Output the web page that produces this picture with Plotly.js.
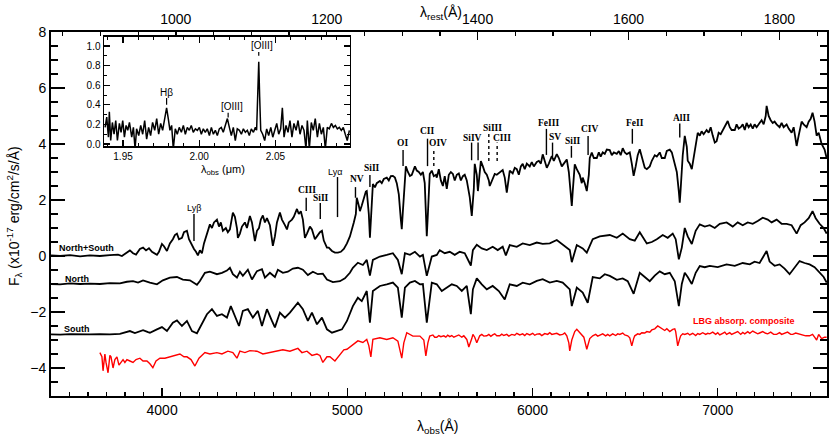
<!DOCTYPE html>
<html><head><meta charset="utf-8">
<script src="https://cdn.plot.ly/plotly-3.0.1.min.js"></script>
<style>html,body{margin:0;padding:0;background:#fff}#chart{width:830px;height:445px}</style>
</head><body><div id="chart"></div>
<script>
// North+South combined spectrum (observed wavelength, Angstrom ; flux 1e-17)
const nsWl = [3400,3449,3503,3557,3610,3664,3718,3762,3783,3810,3826,3843,3859,3880,3897,3913,3929,3945,3961,3972,3983,3999,4010,4026,4042,4058,4069,4080,4091,4107,4118,4134,4145,4156,4172,4183,4193,4204,4215,4226,4237,4247,4258,4269,4280,4296,4307,4317,4328,4344,4355,4366,4377,4382,4393,4404,4409,4420,4431,4447,4458,4474,4485,4496,4501,4512,4523,4533,4544,4555,4566,4582,4593,4598,4609,4620,4636,4647,4663,4674,4684,4701,4711,4728,4738,4749,4760,4771,4782,4798,4809,4825,4836,4852,4863,4873,4890,4900,4917,4933,4949,4965,4981,4998,5014,5024,5035,5046,5051,5062,5068,5078,5089,5100,5105,5116,5122,5127,5138,5149,5159,5176,5186,5197,5213,5224,5235,5246,5257,5267,5278,5289,5294,5300,5311,5316,5327,5338,5348,5359,5365,5375,5386,5397,5408,5418,5424,5429,5435,5445,5456,5467,5478,5483,5494,5505,5516,5526,5537,5548,5559,5570,5580,5591,5602,5613,5624,5634,5645,5651,5661,5672,5683,5688,5699,5705,5715,5721,5732,5742,5753,5764,5769,5780,5796,5807,5823,5839,5850,5861,5872,5877,5893,5904,5915,5926,5937,5947,5958,5969,5985,5996,6007,6023,6034,6045,6055,6066,6077,6088,6104,6115,6131,6142,6158,6169,6185,6196,6206,6212,6217,6228,6239,6255,6266,6271,6282,6293,6304,6309,6320,6331,6347,6358,6368,6379,6390,6401,6417,6428,6439,6455,6466,6476,6487,6498,6509,6525,6536,6546,6557,6568,6579,6590,6606,6617,6633,6644,6660,6671,6687,6698,6714,6725,6741,6752,6768,6779,6790,6795,6800,6811,6822,6833,6838,6849,6860,6870,6881,6892,6903,6913,6924,6940,6951,6962,6973,6984,6994,7005,7016,7027,7038,7054,7065,7075,7092,7102,7113,7124,7135,7146,7156,7167,7178,7189,7199,7210,7226,7237,7248,7259,7264,7275,7286,7297,7307,7318,7334,7345,7356,7372,7383,7399,7410,7426,7437,7453,7464,7480,7491,7502,7512,7523,7534,7545,7561,7577,7588];
const nsFlux = [0.02,0.0,0.03,-0.01,0.02,0.0,0.03,0.05,0.0,0.12,0.2,0.1,0.05,0.25,0.3,0.2,0.28,0.15,0.1,0.04,0.15,0.43,0.35,0.18,0.45,0.6,0.75,0.8,0.6,0.65,0.85,0.9,0.6,0.45,0.25,0.15,0.02,0.2,0.1,0.45,0.7,0.95,1.13,1.0,1.2,1.3,1.05,1.2,0.9,1.0,0.85,0.95,1.3,1.55,1.4,1.0,0.65,0.8,1.05,1.2,1.0,1.43,1.2,0.8,0.53,0.9,1.0,1.3,1.45,1.2,1.35,1.1,0.6,0.36,0.7,1.2,1.55,1.3,1.1,0.95,1.2,1.3,1.4,1.68,1.5,1.6,1.3,0.65,0.8,1.05,0.95,0.6,0.7,0.85,0.9,0.55,0.3,0.3,0.18,0.12,0.12,0.15,0.25,0.45,0.7,0.9,1.2,1.5,2.08,1.8,1.6,1.8,2.1,2.3,2.32,1.5,0.65,1.3,2.57,2.45,2.6,2.68,2.6,2.75,2.8,2.7,2.85,2.86,2.8,2.6,2.2,1.3,0.96,1.6,2.8,3.2,3.0,2.86,2.9,3.1,3.2,3.05,3.0,2.9,3.0,2.6,1.5,0.71,1.5,2.93,3.05,2.85,2.9,2.8,3.1,2.7,2.5,2.85,2.4,2.9,3.0,2.93,2.7,2.9,2.95,2.7,2.85,2.9,2.7,2.5,2.1,1.43,2.4,3.29,2.9,2.32,3.0,3.39,3.2,3.0,2.9,2.7,2.5,2.7,2.93,2.9,3.0,3.07,2.8,2.26,2.8,3.05,2.95,3.15,3.1,2.9,3.2,3.29,3.1,3.3,3.2,3.35,3.2,3.36,3.4,3.3,3.63,3.4,3.15,3.3,3.57,3.4,3.64,3.5,3.2,3.3,3.45,3.0,2.2,1.79,2.3,3.27,3.1,2.9,2.6,2.8,2.6,2.32,2.9,3.5,3.69,3.5,3.5,3.7,3.55,3.7,3.65,3.8,3.78,3.6,3.7,3.65,3.75,3.6,3.85,3.7,3.64,3.7,3.3,2.86,3.2,3.6,3.81,3.5,3.15,3.1,3.2,3.4,3.6,3.55,3.7,3.5,3.5,3.75,3.8,3.7,3.33,3.0,2.3,1.9,2.4,3.6,4.29,3.9,3.4,3.3,3.1,3.5,4.1,4.4,4.3,4.45,4.35,4.5,4.4,4.6,4.3,4.05,4.1,4.4,4.35,4.5,4.6,4.82,4.6,4.5,4.5,4.7,4.55,4.6,4.7,4.5,4.75,4.6,4.7,4.55,4.7,4.6,4.75,4.85,4.7,5.0,5.36,5.0,4.85,4.75,4.8,4.7,4.6,4.75,4.6,4.7,4.55,4.4,4.6,3.93,4.3,4.8,4.7,4.6,4.8,4.9,5.12,4.8,4.3,4.4,4.0,3.8,3.5];

// North spectrum
const northWl = [3400,3449,3503,3557,3610,3664,3718,3772,3810,3843,3870,3897,3934,3972,4004,4042,4080,4112,4150,4188,4204,4231,4258,4296,4323,4350,4366,4382,4404,4420,4436,4463,4485,4512,4539,4555,4582,4609,4625,4652,4679,4706,4733,4760,4787,4814,4841,4868,4890,4922,4960,4987,5014,5030,5057,5084,5105,5122,5138,5176,5213,5246,5273,5294,5311,5338,5365,5392,5408,5429,5456,5483,5499,5526,5553,5580,5607,5634,5667,5678,5699,5726,5753,5785,5812,5839,5856,5877,5915,5947,5985,6023,6055,6093,6131,6163,6201,6212,6239,6271,6293,6325,6363,6417,6455,6487,6525,6552,6579,6617,6644,6671,6703,6730,6757,6773,6790,6806,6822,6838,6860,6881,6903,6930,6957,6984,7011,7048,7081,7108,7135,7162,7189,7216,7243,7270,7291,7318,7345,7372,7399,7426,7448,7469,7491,7512,7529,7550,7572,7588];
const northFlux = [-1.0,-1.01,-0.98,-1.0,-0.99,-1.0,-0.97,-0.98,-0.92,-0.9,-0.95,-0.87,-0.95,-1.01,-0.87,-0.77,-0.75,-0.84,-0.87,-1.03,-0.89,-0.6,-0.56,-0.65,-0.6,-0.52,-0.42,-0.65,-0.77,-0.56,-0.71,-0.49,-0.84,-0.54,-0.47,-0.77,-0.6,-0.75,-0.49,-0.6,-0.56,-0.45,-0.42,-0.49,-0.68,-0.56,-0.65,-0.63,-0.84,-0.93,-0.9,-0.8,-0.6,-0.42,-0.24,-0.32,-0.14,-0.7,-0.14,-0.02,0.04,0.1,-0.14,-0.65,0.1,0.04,0.15,-0.02,0.04,-0.71,-0.02,0.04,0.21,0.1,0.15,0.04,0.15,0.1,-0.34,0.21,0.4,0.27,0.21,0.33,0.21,0.33,0.02,0.39,0.33,0.45,0.39,0.48,0.43,0.45,0.57,0.39,0.21,-0.22,0.39,0.27,0.12,0.6,0.7,0.75,0.65,0.8,0.6,0.55,0.85,0.45,0.5,0.6,0.75,0.65,0.8,0.6,-0.12,0.3,1.0,0.7,0.43,0.9,1.13,1.05,1.1,1.0,1.15,1.2,1.05,1.2,1.1,1.2,1.15,1.25,1.37,1.3,1.2,1.3,1.15,1.15,1.1,0.8,1.1,1.2,1.35,1.6,1.35,1.15,1.0,0.8];

// South spectrum
const southWl = [3400,3449,3503,3557,3610,3664,3718,3772,3810,3826,3853,3880,3897,3924,3934,3972,3999,4026,4058,4080,4107,4134,4161,4188,4215,4242,4269,4296,4323,4350,4371,4393,4415,4436,4463,4490,4517,4539,4566,4593,4609,4636,4663,4690,4717,4733,4760,4787,4809,4836,4863,4890,4917,4944,4971,4998,5030,5057,5078,5105,5122,5138,5176,5213,5246,5273,5294,5311,5338,5365,5392,5408,5429,5456,5483,5510,5537,5564,5591,5618,5645,5667,5678,5699,5726,5753,5785,5818,5850,5877,5915,5947,5985,6023,6055,6093,6131,6163,6201,6212,6239,6271,6298,6325,6363,6390,6417,6455,6487,6514,6546,6579,6606,6633,6660,6687,6714,6741,6768,6790,6806,6822,6838,6860,6881,6903,6930,6957,7000,7048,7092,7135,7173,7199,7226,7248,7264,7280,7307,7334,7361,7388,7415,7442,7469,7496,7523,7550,7572,7588];
const southFlux = [-2.8,-2.81,-2.79,-2.8,-2.8,-2.79,-2.8,-2.78,-2.72,-2.68,-2.75,-2.7,-2.65,-2.72,-2.74,-2.62,-2.54,-2.68,-2.38,-2.3,-2.5,-2.32,-2.68,-2.76,-2.44,-2.08,-1.9,-2.14,-2.08,-2.2,-1.79,-2.14,-2.5,-1.96,-1.9,-2.2,-1.96,-2.5,-1.9,-2.32,-2.55,-2.02,-2.2,-2.02,-1.79,-1.67,-1.9,-2.32,-2.02,-2.44,-2.2,-2.62,-2.74,-2.68,-2.62,-2.32,-1.79,-1.49,-1.61,-1.25,-2.38,-1.25,-1.07,-1.01,-0.95,-1.13,-2.2,-1.13,-0.95,-0.89,-1.01,-1.0,-2.38,-0.95,-1.01,-1.25,-1.13,-1.01,-1.07,-1.25,-1.07,-2.08,-1.19,-0.8,-1.01,-1.19,-1.07,-1.25,-1.55,-1.01,-1.07,-0.95,-1.01,-0.89,-0.83,-0.95,-0.89,-0.95,-1.19,-1.79,-1.13,-1.31,-1.67,-0.75,-0.8,-0.65,-0.71,-0.85,-0.8,-0.9,-1.35,-0.6,-0.75,-0.9,-0.7,-0.55,-0.65,-0.6,-0.9,-1.79,-1.0,-0.6,-0.75,-1.0,-0.6,-0.36,-0.4,-0.35,-0.4,-0.3,-0.35,-0.25,-0.3,-0.2,-0.25,0.0,0.18,-0.2,-0.35,-0.3,-0.45,-0.65,-0.4,-0.18,-0.25,-0.3,-0.4,-0.6,-0.75,-0.95];

// LBG absorption composite (red)
const lbgWl = [3664,3675,3681,3691,3697,3708,3718,3724,3735,3745,3756,3767,3772,3789,3799,3810,3826,3843,3859,3880,3897,3918,3934,3950,3967,3988,4015,4042,4069,4096,4118,4134,4156,4177,4199,4220,4231,4258,4296,4323,4355,4382,4404,4420,4447,4474,4512,4544,4582,4614,4652,4690,4711,4733,4755,4782,4809,4836,4852,4868,4890,4906,4933,4960,4981,4998,5030,5057,5084,5105,5116,5127,5138,5176,5213,5246,5273,5294,5305,5321,5354,5392,5413,5424,5435,5445,5462,5472,5483,5494,5505,5521,5532,5542,5553,5564,5575,5591,5602,5618,5629,5645,5656,5672,5678,5688,5699,5715,5726,5737,5753,5764,5775,5785,5796,5807,5823,5834,5845,5861,5872,5888,5904,5915,5931,5947,5958,5969,5985,6001,6012,6023,6039,6050,6066,6082,6093,6104,6120,6131,6147,6163,6174,6185,6196,6201,6212,6228,6239,6255,6266,6277,6293,6309,6325,6341,6352,6363,6379,6395,6406,6417,6433,6449,6460,6471,6487,6498,6514,6525,6536,6546,6552,6568,6579,6590,6606,6617,6633,6644,6660,6676,6687,6703,6714,6725,6741,6757,6768,6773,6784,6795,6800,6811,6822,6838,6849,6865,6881,6892,6903,6919,6935,6946,6957,6973,6989,7000,7011,7027,7038,7048,7065,7075,7092,7108,7124,7135,7146,7162,7173,7189,7199,7216,7226,7243,7259,7270,7286,7302,7318,7334,7345,7361,7377,7394,7405,7421,7442,7458,7475,7496,7512,7523,7534,7545,7561,7577,7588];
const lbgFlux = [-3.45,-3.6,-4.1,-3.5,-3.8,-4.17,-3.55,-3.6,-4.0,-3.7,-3.6,-3.9,-3.85,-3.7,-3.8,-3.7,-3.75,-3.8,-3.7,-3.65,-3.75,-3.75,-3.85,-3.99,-3.75,-3.65,-3.65,-3.6,-3.55,-3.5,-3.6,-3.6,-3.7,-3.93,-3.65,-3.5,-3.45,-3.5,-3.45,-3.5,-3.4,-3.45,-3.65,-3.4,-3.45,-3.38,-3.4,-3.5,-3.45,-3.4,-3.35,-3.4,-3.35,-3.3,-3.45,-3.4,-3.55,-3.5,-3.55,-3.8,-3.6,-3.6,-3.75,-3.51,-3.35,-3.33,-3.15,-3.03,-3.09,-2.98,-3.2,-3.6,-2.98,-2.92,-2.98,-2.92,-3.04,-3.65,-3.1,-2.74,-2.86,-2.86,-3.0,-3.57,-3.1,-2.86,-2.82,-2.9,-2.9,-2.84,-2.88,-2.85,-2.9,-2.83,-2.88,-2.84,-2.9,-2.85,-2.82,-2.9,-2.85,-2.98,-3.25,-2.95,-2.8,-2.9,-3.1,-2.85,-2.8,-2.86,-2.85,-2.8,-2.87,-2.82,-2.78,-2.85,-2.85,-2.79,-2.84,-2.8,-2.86,-2.8,-2.83,-2.76,-2.82,-2.78,-2.84,-2.77,-2.82,-2.76,-2.83,-2.79,-2.78,-2.84,-2.77,-2.8,-2.74,-2.8,-2.76,-2.76,-2.82,-2.8,-2.75,-2.85,-3.1,-3.39,-3.0,-2.7,-2.62,-2.75,-2.8,-2.9,-3.33,-2.95,-2.85,-2.8,-2.86,-2.82,-2.78,-2.85,-2.8,-2.85,-2.78,-2.84,-2.78,-2.8,-2.75,-2.82,-2.85,-2.92,-3.21,-2.95,-2.85,-2.78,-2.8,-2.74,-2.75,-2.7,-2.72,-2.64,-2.6,-2.5,-2.55,-2.62,-2.66,-2.6,-2.7,-2.62,-2.6,-2.7,-3.21,-2.95,-2.85,-2.78,-2.8,-2.76,-2.82,-2.76,-2.84,-2.77,-2.8,-2.74,-2.8,-2.76,-2.78,-2.72,-2.8,-2.74,-2.82,-2.76,-2.72,-2.8,-2.74,-2.8,-2.75,-2.7,-2.8,-2.73,-2.78,-2.7,-2.76,-2.68,-2.72,-2.78,-2.75,-2.7,-2.76,-2.78,-2.72,-2.8,-2.8,-2.74,-2.8,-2.76,-2.72,-2.8,-2.8,-2.75,-2.78,-2.83,-2.85,-2.85,-2.8,-2.9,-3.0,-2.8,-2.95,-2.9,-2.9];

// Inset: near-IR spectrum (micron ; flux)
const irWl = [1.9382,1.9393,1.9404,1.9410,1.9419,1.9430,1.9441,1.9452,1.9463,1.9476,1.9487,1.9498,1.9509,1.9520,1.9531,1.9542,1.9557,1.9568,1.9579,1.9589,1.9603,1.9616,1.9629,1.9642,1.9655,1.9668,1.9681,1.9694,1.9708,1.9721,1.9734,1.9747,1.9760,1.9773,1.9786,1.9797,1.9808,1.9819,1.9830,1.9843,1.9856,1.9869,1.9883,1.9896,1.9909,1.9922,1.9935,1.9948,1.9961,1.9975,1.9988,2.0001,2.0014,2.0027,2.0040,2.0053,2.0067,2.0080,2.0093,2.0106,2.0119,2.0132,2.0145,2.0158,2.0172,2.0185,2.0198,2.0211,2.0224,2.0237,2.0250,2.0264,2.0277,2.0290,2.0303,2.0316,2.0329,2.0342,2.0356,2.0369,2.0377,2.0384,2.0391,2.0397,2.0404,2.0417,2.0430,2.0443,2.0456,2.0470,2.0483,2.0496,2.0509,2.0522,2.0535,2.0546,2.0557,2.0570,2.0583,2.0596,2.0609,2.0622,2.0636,2.0649,2.0662,2.0675,2.0688,2.0701,2.0710,2.0723,2.0736,2.0749,2.0762,2.0776,2.0789,2.0802,2.0815,2.0828,2.0841,2.0854,2.0868,2.0881,2.0894,2.0907,2.0920,2.0933,2.0946,2.0959,2.0972,2.0986];
const irFlux = [0.17,0.275,0.07,0.33,0.036,0.22,0.10,0.24,0.036,0.21,0.12,0.24,0.07,0.19,0.14,0.22,0.07,0.17,-0.05,0.155,0.087,0.19,0.10,0.24,0.05,0.17,0.087,0.22,0.14,0.26,0.10,0.21,0.14,0.275,0.37,0.26,0.14,0.19,-0.05,0.155,0.10,0.17,0.12,0.19,0.10,0.17,0.14,0.19,0.12,0.155,0.14,0.17,0.10,0.155,0.12,0.155,0.087,0.17,0.10,0.14,0.087,0.155,0.17,0.12,0.19,0.26,0.17,0.087,0.17,0.036,0.155,0.14,0.10,0.155,0.12,0.14,0.087,0.155,0.12,0.17,0.14,0.48,0.84,0.48,0.14,0.10,0.036,0.155,0.087,0.17,0.07,0.14,0.21,0.10,0.155,0.37,0.07,0.19,0.12,0.24,0.07,0.21,0.14,0.24,0.10,0.19,0.14,-0.05,0.24,-0.05,0.22,0.14,0.26,0.07,0.21,0.10,0.17,-0.05,0.17,0.155,0.21,0.17,0.19,0.155,0.17,0.14,0.17,0.10,0.036,0.14];

// Absorption-line identifications (label text, label position, marker span)
const lineNames = ['Ly&#946;','CIII','SiII','Ly&#945;','NV','SiII','OI','CII','OIV','SiIV','SiIII','CIII','FeIII','SV','SiII','CIV','FeII','AlII'];
const lineLabelWl = [4172,4780,4857,4933,5050,5131,5300,5435,5489,5676,5782,5836,6088,6124,6217,6309,6552,6802];
const lineLabelY = [1.71,2.35,2.06,3.0,2.75,3.15,4.05,4.46,4.05,4.22,4.56,4.22,4.76,4.25,4.11,4.55,4.74,4.94];
const markWl = [4172,4778,4854,4947,5044,5122,5301,5433,5467,5671,5706,5764,5809,6075,6108,6210,6300,6539,6795];
const markLo = [0.54,1.61,1.32,1.39,2.08,2.46,3.21,3.21,3.21,3.42,3.42,3.39,3.39,3.61,3.54,3.51,3.61,4.01,4.23];
const markHi = [1.5,2.08,1.89,2.82,2.46,2.89,3.79,4.19,3.79,4.05,4.05,4.36,4.05,4.54,4.05,3.93,4.29,4.54,4.73];
const markDashed = [false,false,false,false,false,false,false,false,true,false,false,true,true,false,false,false,false,false,false];

// Inset emission-line labels
const irNames = ['H&#946;','[OIII]','[OIII]'];
const irLabelWl = [1.9786,2.0215,2.0415];
const irLabelY = [0.53,0.385,1.01];
const irMarkWl = [1.9786,2.0190,2.0391];
const irMarkLo = [0.40,0.27,0.90];
const irMarkHi = [0.47,0.32,0.94];

// Spectrum names
const specNames = ['North+South','North','South','LBG absorp. composite'];
const specNameWl = [3591,3542,3542,7140];
const specNameY = [0.28,-0.83,-2.62,-2.32];
const specNameColor = ['#000','#000','#000','#ff0000'];

const zRest = 3.074;
const obsRange = [3400, 7590];

const black = '#000';
const data = [
  {x: nsWl, y: nsFlux, type:'scatter', mode:'lines', line:{color:black, width:1.8}, hoverinfo:'skip'},
  {x: northWl, y: northFlux, type:'scatter', mode:'lines', line:{color:black, width:1.8}, hoverinfo:'skip'},
  {x: southWl, y: southFlux, type:'scatter', mode:'lines', line:{color:black, width:1.8}, hoverinfo:'skip'},
  {x: lbgWl, y: lbgFlux, type:'scatter', mode:'lines', line:{color:'#ff0000', width:1.4}, hoverinfo:'skip'},
  {x: irWl, y: irFlux, type:'scatter', mode:'lines', xaxis:'x3', yaxis:'y3', line:{color:black, width:1.5}, hoverinfo:'skip'},
  {x: [], y: [], type:'scatter', mode:'lines', xaxis:'x2', yaxis:'y', hoverinfo:'skip'}
];

const shapes = [];
for (let i = 0; i < markWl.length; i++) {
  shapes.push({type:'line', xref:'x', yref:'y', x0: markWl[i], x1: markWl[i], y0: markLo[i], y1: markHi[i],
    line:{color:black, width:1.4, dash: markDashed[i] ? '3px,3px' : 'solid'}});
}
for (let i = 0; i < irMarkWl.length; i++) {
  shapes.push({type:'line', xref:'x3', yref:'y3', x0: irMarkWl[i], x1: irMarkWl[i], y0: irMarkLo[i], y1: irMarkHi[i],
    line:{color:black, width:1.2}});
}

const annotations = [];
for (let i = 0; i < lineNames.length; i++) {
  const isLy = lineNames[i].indexOf('Ly') === 0;
  annotations.push({xref:'x', yref:'y', x: lineLabelWl[i], y: lineLabelY[i], text: lineNames[i], showarrow:false,
    xanchor:'center', yanchor:'middle',
    font: isLy ? {family:'Liberation Sans, Arial, sans-serif', size:9, color:black}
               : {family:'Liberation Serif, Times New Roman, serif', size:9.5, color:black, weight:'bold'}});
}
for (let i = 0; i < irNames.length; i++) {
  annotations.push({xref:'x3', yref:'y3', x: irLabelWl[i], y: irLabelY[i], text: irNames[i], showarrow:false,
    xanchor:'center', yanchor:'middle', font:{family:'Liberation Sans, Arial, sans-serif', size:10, color:black}});
}
for (let i = 0; i < specNames.length; i++) {
  annotations.push({xref:'x', yref:'y', x: specNameWl[i], y: specNameY[i], text: specNames[i], showarrow:false,
    xanchor:'center', yanchor:'middle', font:{family:'Liberation Sans, Arial, sans-serif', size:9, color:specNameColor[i], weight:'bold'}});
}
// axis titles
annotations.push({xref:'paper', yref:'paper', x:-0.0477, y:0.4945, textangle:-90, showarrow:false, xanchor:'center', yanchor:'middle',
  text:'F<sub>&#955;</sub> (x10<sup>-17</sup> erg/cm<sup>2</sup>/s/Å)', font:{size:14, color:black}});
annotations.push({xref:'paper', yref:'paper', x:0.4987, y:-0.085, showarrow:false, xanchor:'center', yanchor:'middle',
  text:'&#955;<sub>obs</sub>(Å)', font:{size:14, color:black}});
annotations.push({xref:'paper', yref:'paper', x:0.503, y:1.052, showarrow:false, xanchor:'center', yanchor:'middle',
  text:'&#955;<sub>rest</sub>(Å)', font:{size:14, color:black}});
annotations.push({xref:'paper', yref:'paper', x:0.2216, y:0.621, showarrow:false, xanchor:'center', yanchor:'middle',
  text:'&#955;<sub>obs</sub> (&#956;m)', font:{size:11, color:black}});

const axCommon = {showgrid:false, zeroline:false, showline:true, linecolor:black, ticks:'inside', tickcolor:black};

const layout = {
  width:830, height:445,
  margin:{l:51, r:3, t:32, b:49},
  paper_bgcolor:'#fff', plot_bgcolor:'#fff',
  showlegend:false,
  font:{family:'Liberation Sans, Arial, sans-serif', color:black},
  xaxis: Object.assign({}, axCommon, {range:obsRange, dtick:1000, tick0:0, ticklen:8, tickwidth:1.5, linewidth:2,
    mirror:false, tickfont:{size:14}, minor:{dtick:100, ticks:'inside', ticklen:4, tickwidth:1.2, tickcolor:black, showgrid:false}}),
  xaxis2: Object.assign({}, axCommon, {overlaying:'x', side:'top', anchor:'y', range:[obsRange[0]/(1+zRest), obsRange[1]/(1+zRest)],
    dtick:200, tick0:0, ticklen:8, tickwidth:1.5, linewidth:2, tickfont:{size:14},
    minor:{dtick:50, ticks:'inside', ticklen:4, tickwidth:1.2, tickcolor:black, showgrid:false}}),
  yaxis: Object.assign({}, axCommon, {range:[-5,8], dtick:2, tick0:0, ticklen:14, tickwidth:1.5, linewidth:2, mirror:'ticks',
    tickfont:{size:14}, minor:{dtick:0.5, ticks:'inside', ticklen:7, tickwidth:1.2, tickcolor:black, showgrid:false}}),
  xaxis3: Object.assign({}, axCommon, {domain:[0.0683,0.3853], anchor:'y3', range:[1.9375,2.099], dtick:0.05, tick0:1.95,
    tickformat:'.2f', ticklen:6, tickwidth:1.2, linewidth:1.5, mirror:'ticks', tickfont:{size:10},
    minor:{dtick:0.01, ticks:'inside', ticklen:3, tickwidth:1, tickcolor:black, showgrid:false}}),
  yaxis3: Object.assign({}, axCommon, {domain:[0.6868,0.9871], anchor:'x3', range:[-0.02,1.095], dtick:0.2, tick0:0,
    tickformat:'.1f', ticklen:6, tickwidth:1.2, linewidth:1.5, mirror:'ticks', tickfont:{size:10},
    minor:{dtick:0.1, ticks:'inside', ticklen:3, tickwidth:1, tickcolor:black, showgrid:false}}),
  shapes: shapes,
  annotations: annotations
};

Plotly.newPlot('chart', data, layout, {displayModeBar:false, staticPlot:true});
</script>
</body></html>
